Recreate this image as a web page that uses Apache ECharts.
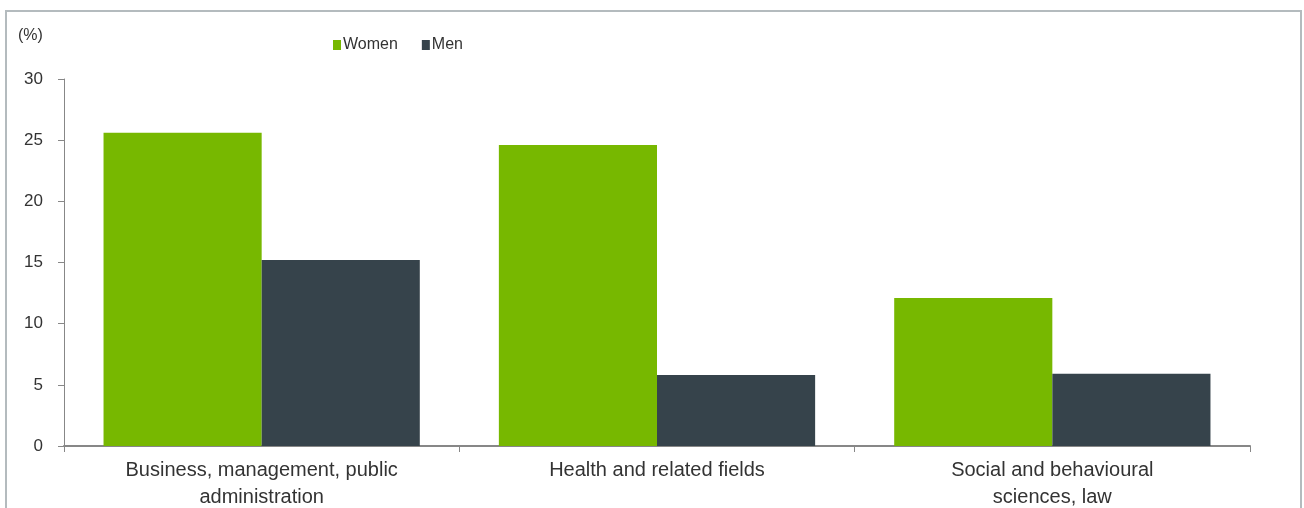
<!DOCTYPE html>
<html>
<head>
<meta charset="utf-8">
<script src="https://cdn.jsdelivr.net/npm/echarts@6/dist/echarts.min.js"></script>
<style>
  html, body { margin: 0; padding: 0; background: #fff; }
  #chart { width: 1304px; height: 508px; }
</style>
</head>
<body>
<div id="chart"></div>
<script>
var categories = ['Business, management, public\nadministration', 'Health and related fields', 'Social and behavioural\nsciences, law'];
var women = [25.6, 24.6, 12.1];
var men = [15.2, 5.8, 5.9];
var yTicks = [0, 5, 10, 15, 20, 25, 30];

var chartDom = document.getElementById('chart');
var myChart = echarts.init(chartDom);
var font = 'Liberation Sans, Arial, sans-serif';

var option = {
    animation: false,
    textStyle: { fontFamily: font },
    graphic: [
        {
            type: 'rect',
            shape: { x: 6, y: 11, width: 1295, height: 520 },
            style: { fill: 'none', stroke: '#b4bbbe', lineWidth: 2 },
            silent: true
        },
        {
            type: 'text',
            left: 18,
            top: 28,
            style: { text: '(%)', fill: '#333', font: '16px ' + font }
        }
    ],
    legend: {
        left: 328,
        top: 32,
        itemWidth: 8,
        itemHeight: 10,
        itemGap: 24,
        icon: 'rect',
        textStyle: { color: '#333', fontSize: 16, fontFamily: font, padding: [0, 0, 0, -3] },
        data: ['Women', 'Men']
    },
    grid: {
        left: 64,
        right: 54,
        top: 79,
        bottom: 62,
        outerBoundsMode: 'none'
    },
    xAxis: {
        type: 'category',
        data: categories,
        axisLine: { lineStyle: { color: '#878787', width: 2 } },
        axisTick: { show: true, length: 6, lineStyle: { color: '#878787' } },
        axisLabel: {
            color: '#333',
            fontSize: 20,
            lineHeight: 27,
            margin: 11,
            fontFamily: font
        }
    },
    yAxis: {
        type: 'value',
        min: yTicks[0],
        max: yTicks[yTicks.length - 1],
        interval: 5,
        splitLine: { show: false },
        axisLine: { show: true, lineStyle: { color: '#878787' } },
        axisTick: { show: true, length: 6, lineStyle: { color: '#878787' } },
        axisLabel: {
            color: '#333',
            fontSize: 17,
            margin: 21,
            fontFamily: font
        }
    },
    series: [
        {
            name: 'Women',
            type: 'bar',
            data: women,
            barGap: '0%',
            barCategoryGap: '20%',
            itemStyle: { color: '#77b800' }
        },
        {
            name: 'Men',
            type: 'bar',
            data: men,
            itemStyle: { color: '#36434b' }
        }
    ]
};

option && myChart.setOption(option);
</script>
</body>
</html>
